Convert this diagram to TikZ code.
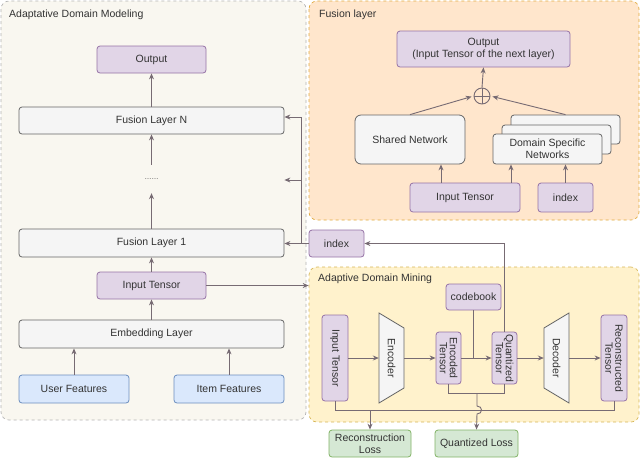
\documentclass[tikz,border=0pt]{standalone}
\usepackage{fontspec}
\setmainfont{Liberation Sans}
\usetikzlibrary{arrows.meta}
\definecolor{pfill}{HTML}{E1D5E7}
\definecolor{pdraw}{HTML}{9673A6}
\definecolor{gfill}{HTML}{F5F5F5}
\definecolor{gdraw}{HTML}{666666}
\definecolor{bfill}{HTML}{DAE8FC}
\definecolor{bdraw}{HTML}{6C8EBF}
\definecolor{grfill}{HTML}{D5E8D4}
\definecolor{grdraw}{HTML}{82B366}
\definecolor{arrc}{HTML}{776B73}
\definecolor{txt}{HTML}{333333}
\definecolor{lpfill}{HTML}{F9F7F0}
\definecolor{lpdraw}{HTML}{B3B3B3}
\definecolor{fpfill}{HTML}{FFE6CC}
\definecolor{fpdraw}{HTML}{E0AA3E}
\definecolor{apfill}{HTML}{FFF2CC}
\definecolor{apdraw}{HTML}{D6B656}
\begin{document}
\begin{tikzpicture}[x=1pt,y=-1pt,
  every node/.style={font=\fontsize{10.5}{12}\selectfont, text=txt, inner sep=1pt, align=center},
  box/.style={draw, rounded corners=3pt, line width=0.8pt},
  pbox/.style={box, fill=pfill, draw=pdraw},
  gbox/.style={box, fill=gfill, draw=gdraw},
  bbox/.style={box, fill=bfill, draw=bdraw},
  grbox/.style={box, fill=grfill, draw=grdraw},
  panel/.style={rounded corners=8pt, dashed, line width=0.7pt},
  arr/.style={draw=arrc, line width=0.9pt, -{Stealth[length=6pt,width=5pt]}},
  ln/.style={draw=arrc, line width=0.9pt},
  ttl/.style={anchor=west}
]
\useasboundingbox (0,0) rectangle (640,459);
% panels
\draw[panel, fill=lpfill, draw=lpdraw] (1,1) rectangle (306,420);
\draw[panel, fill=fpfill, draw=fpdraw] (309,1) rectangle (639,220);
\node[panel, fill=apfill, draw=apdraw, minimum width=330pt, minimum height=155pt, inner sep=0pt] (adm) at (474,344.5) {};
\node[ttl] (t1) at (8,15) {Adaptative Domain Modeling};
\node[ttl] (t2) at (318,15) {Fusion layer};
\node[ttl] (t3) at (317,279) {Adaptive Domain Mining};

% left panel
\node[pbox, minimum width=109pt, minimum height=27pt] (out) at (151.5,59.5) {Output};
\node[gbox, minimum width=265pt, minimum height=27pt] (fN) at (151.5,120.5) {Fusion Layer N};
\node[minimum height=28pt, inner sep=0pt] (dots) at (151.5,179) {\fontsize{7}{8}\selectfont ……};
\node[gbox, minimum width=265pt, minimum height=28pt] (f1) at (151.5,243) {Fusion Layer 1};
\node[pbox, minimum width=109pt, minimum height=27pt] (it) at (151.5,285.5) {Input Tensor};
\node[gbox, minimum width=265pt, minimum height=28pt] (emb) at (151.5,334) {Embedding Layer};
\node[bbox, minimum width=110pt, minimum height=28pt] (uf) at (74,389) {User Features};
\node[bbox, minimum width=110pt, minimum height=28pt] (itf) at (229,389) {Item Features};
\node[pbox, minimum width=55pt, minimum height=27pt] (idx) at (336.5,243.5) {index};

\draw[arr] (fN.north) -- (out.south);
\draw[arr] (dots.north) -- (fN.south);
\draw[arr] (f1.north) -- (dots.south);
\draw[arr] (it.north) -- (f1.south);
\draw[arr] (emb.north) -- (it.south);
\draw[arr] (uf.north) -- (uf.north |- emb.south);
\draw[arr] (itf.north) -- (itf.north |- emb.south);
\draw[arr] (idx.west) -- (idx.west -| f1.east);
\coordinate (j1) at (301,243.5);
\coordinate (j2) at (301,117);
\coordinate (j3) at (301,180);
\draw[ln] (j1) -- (j2);
\draw[arr] (j2) -- (j2 -| fN.east);
\draw[arr] (j3) -- (j3 -| fN.east);
\draw[arr] (it.east) -- (it.east -| adm.west);

% fusion layer panel
\node[pbox, minimum width=173pt, minimum height=36pt] (fout) at (483.5,49) {Output\\(Input Tensor of the next layer)};
\node[circle, draw=arrc, line width=0.9pt, minimum size=16pt, inner sep=0pt] (op) at (482,96) {};
\draw[ln] (op.north) -- (op.south) (op.west) -- (op.east);
\draw[arr] (op.north) -- (fout.south);
\node[gbox, rounded corners=6pt, minimum width=110pt, minimum height=49pt] (sn) at (410,139.5) {Shared Network};
\node[gbox, minimum width=109pt, minimum height=29pt] (d3) at (565.5,129.5) {};
\node[gbox, minimum width=109pt, minimum height=29pt] (d2) at (556.5,139.5) {};
\node[gbox, minimum width=109pt, minimum height=30pt] (d1) at (547.5,149) {Domain Specific\\Networks};
\draw[arr, shorten >=2pt] (sn.north) -- (op.west);
\draw[arr, shorten >=2pt] (d3.north) -- (op.east);
\node[pbox, minimum width=110pt, minimum height=29pt] (fit) at (465,197.5) {Input Tensor};
\node[pbox, minimum width=55pt, minimum height=29pt] (fidx) at (565.5,197.5) {index};
\coordinate (a1) at (441,183);
\coordinate (a2) at (511,183);
\draw[arr] (a1) -- (a1 |- sn.south);
\draw[arr] (a2) -- (a2 |- d1.south);
\draw[arr] (fidx.north) -- (fidx.north |- d1.south);

% adaptive domain mining
\node[pbox, minimum width=55pt, minimum height=26pt] (cb) at (473.5,297) {codebook};
\node[pbox, minimum width=26pt, minimum height=86pt] (vit) at (335,358) {};
\node[rotate=-90] (vitt) at (vit) {Input Tensor};
\node[minimum width=25pt, minimum height=90pt, inner sep=0pt] (enc) at (391.5,358) {};
\draw[fill=gfill, draw=gdraw, line width=0.8pt] (379,313) -- (404,328) -- (404,388) -- (379,403) -- cycle;
\node[rotate=-90] (enct) at (enc) {Encoder};
\node[pbox, minimum width=25pt, minimum height=52pt] (eten) at (448.5,358) {};
\node[rotate=-90, font=\fontsize{10.5}{10}\selectfont] (etent) at (eten) {Encoded\\Tensor};
\node[pbox, minimum width=25pt, minimum height=52pt] (qten) at (504.5,358) {};
\node[rotate=-90, font=\fontsize{10.5}{10}\selectfont] (qtent) at (qten) {Quantized\\Tensor};
\node[minimum width=25pt, minimum height=90pt, inner sep=0pt] (dec) at (556.5,358) {};
\draw[fill=gfill, draw=gdraw, line width=0.8pt] (544,328) -- (569,313) -- (569,403) -- (544,388) -- cycle;
\node[rotate=-90] (dect) at (dec) {Decoder};
\node[pbox, minimum width=26pt, minimum height=86pt] (rten) at (614,358) {};
\node[rotate=-90, font=\fontsize{10.5}{10}\selectfont] (rtent) at (rten) {Reconstructed\\Tensor};

\draw[arr] (vit.east) -- (enc.west);
\draw[arr] (enc.east) -- (eten.west);
\draw[arr] (eten.east) -- (qten.west);
\draw[arr] (qten.east) -- (dec.west);
\draw[arr] (dec.east) -- (rten.west);
\draw[ln] (cb.south) -- (cb.south |- eten.east);
\draw[arr] (qten.north) |- (idx.east);

\node[grbox, minimum width=82pt, minimum height=27pt] (rl) at (370,443.5) {Reconstruction\\Loss};
\node[grbox, minimum width=83pt, minimum height=27pt] (ql) at (476.5,443.5) {Quantized Loss};

\draw[ln] (eten.south) -- ++(0,9) -| (qten.south);
\coordinate (qb) at (477,393);
\draw[arr] (qb) -- (477,406) .. controls (483,406) and (483,414) .. (477,414) -- (ql.north);
\draw[ln] (vit.south) -- ++(0,9) -| (rten.south);
\coordinate (rb) at (0,410);
\draw[arr] (rl.north |- rb) -- (rl.north);
\end{tikzpicture}
\end{document}
